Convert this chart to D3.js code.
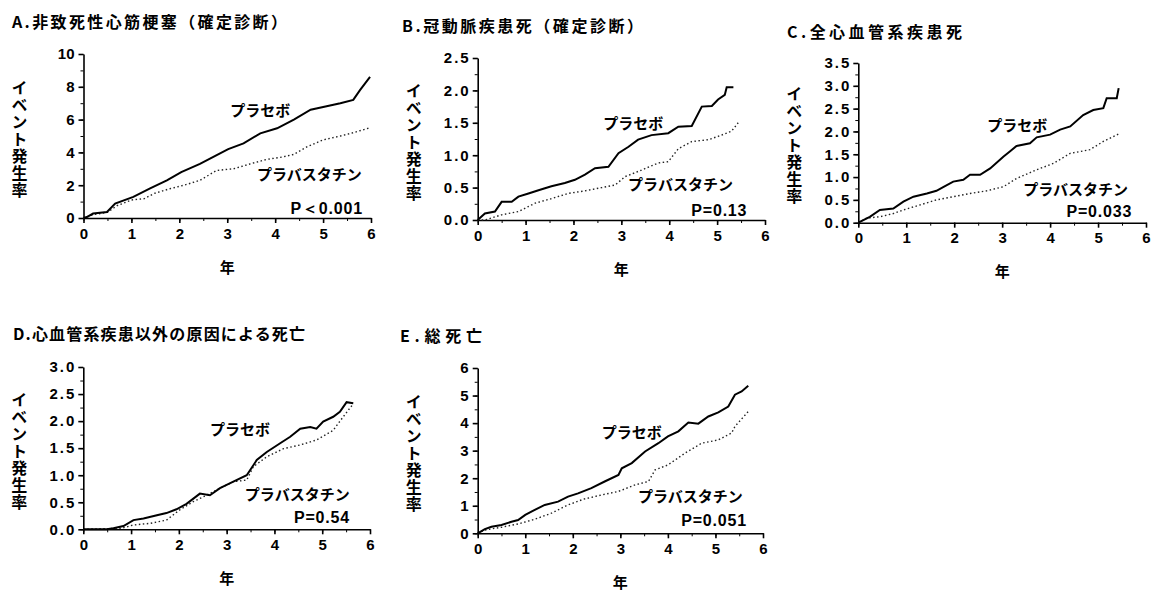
<!DOCTYPE html>
<html>
<head>
<meta charset="utf-8">
<script src="https://cdn.jsdelivr.net/npm/d3@7"></script>
<style>
  body { margin: 0; background: #fff; }
  svg { display: block; }
  .jp { font-family: "Noto Sans CJK JP", sans-serif; font-weight: bold; }
  .num { font-family: "Liberation Sans", Arial, sans-serif; font-weight: bold; }
</style>
</head>
<body>
<svg width="1155" height="591"></svg>
<script>
// chart values
const panelTitles = [
	'A.非致死性心筋梗塞（確定診断）',
	'B.冠動脈疾患死（確定診断）',
	'C.全心血管系疾患死',
	'D.心血管系疾患以外の原因による死亡',
	'E.総死亡',
];
const yMax = [10, 2.5, 3.5, 3.0, 6];
const yStep = [2, 0.5, 0.5, 0.5, 1];
const yDecimals = [0, 1, 1, 1, 0];
const xTicks = [0, 1, 2, 3, 4, 5, 6];
const pValues = ['P＜0.001', 'P=0.13', 'P=0.033', 'P=0.54', 'P=0.051'];
const yLabel = 'イベント発生率';
const xLabel = '年';
const seriesNames = ['プラセボ', 'プラバスタチン'];

const placeboA = [[0,0],[0.07,0.06],[0.2,0.27],[0.49,0.37],[0.66,0.88],[1.04,1.29],[1.39,1.8],[1.74,2.3],[2.04,2.8],[2.43,3.3],[2.78,3.84],[3.02,4.2],[3.34,4.55],[3.69,5.16],[4.04,5.47],[4.39,6.0],[4.74,6.6],[5.05,6.8],[5.36,7.0],[5.63,7.2],[5.77,7.8],[5.98,8.6]];
const pravaA = [[0,0],[0.2,0.2],[0.5,0.35],[0.7,0.75],[1.0,1.1],[1.27,1.18],[1.48,1.5],[1.82,1.8],[2.1,2.0],[2.43,2.3],[2.78,2.9],[3.13,3.0],[3.48,3.3],[3.82,3.57],[4.17,3.73],[4.39,3.88],[4.67,4.35],[5.0,4.76],[5.36,5.0],[5.63,5.2],[5.98,5.5]];

const placeboB = [[0,0],[0.15,0.1],[0.36,0.13],[0.5,0.28],[0.71,0.28],[0.85,0.36],[1.06,0.41],[1.27,0.46],[1.54,0.52],[1.82,0.57],[2.03,0.62],[2.24,0.7],[2.45,0.8],[2.73,0.82],[2.94,1.03],[3.15,1.13],[3.35,1.24],[3.63,1.31],[3.98,1.34],[4.19,1.44],[4.47,1.45],[4.68,1.75],[4.89,1.76],[5.02,1.86],[5.16,1.93],[5.2,2.05],[5.34,2.05]];
const pravaB = [[0,0],[0.15,0],[0.5,0.08],[0.85,0.13],[1.2,0.26],[1.54,0.33],[1.89,0.41],[2.24,0.45],[2.59,0.5],[2.87,0.54],[3.08,0.67],[3.42,0.77],[3.77,0.88],[3.98,0.9],[4.19,1.1],[4.47,1.21],[4.82,1.24],[5.02,1.29],[5.3,1.37],[5.44,1.5]];

const placeboC = [[0,0],[0.24,0.13],[0.45,0.28],[0.73,0.31],[0.94,0.46],[1.15,0.57],[1.43,0.64],[1.63,0.7],[1.77,0.78],[1.98,0.9],[2.19,0.94],[2.33,1.05],[2.54,1.05],[2.75,1.19],[3.03,1.45],[3.16,1.56],[3.3,1.68],[3.58,1.74],[3.72,1.87],[4.0,1.93],[4.21,2.04],[4.42,2.11],[4.69,2.36],[4.9,2.47],[5.11,2.51],[5.18,2.73],[5.39,2.73],[5.43,2.95]];
const pravaC = [[0,0],[0.17,0.1],[0.45,0.13],[0.73,0.2],[0.94,0.28],[1.29,0.39],[1.63,0.5],[1.98,0.57],[2.33,0.64],[2.68,0.7],[3.03,0.79],[3.3,0.97],[3.72,1.16],[4.07,1.3],[4.42,1.52],[4.83,1.6],[5.11,1.78],[5.46,1.96]];

const placeboD = [[0,0],[0.49,0],[0.63,0.02],[0.84,0.06],[1.05,0.17],[1.26,0.2],[1.54,0.26],[1.74,0.3],[1.95,0.37],[2.16,0.47],[2.44,0.66],[2.65,0.63],[2.86,0.76],[3.14,0.88],[3.42,1.0],[3.63,1.28],[3.84,1.43],[4.12,1.59],[4.33,1.71],[4.54,1.86],[4.75,1.89],[4.88,1.86],[5.02,1.99],[5.23,2.08],[5.37,2.17],[5.51,2.35],[5.65,2.33]];
const pravaD = [[0,0],[0.8,0.02],[1.05,0.08],[1.4,0.11],[1.74,0.17],[2.02,0.36],[2.3,0.51],[2.58,0.63],[2.86,0.76],[3.14,0.88],[3.42,0.91],[3.56,1.16],[3.84,1.34],[4.19,1.49],[4.54,1.56],[4.88,1.65],[5.23,1.83],[5.44,2.08],[5.65,2.32]];

const placeboE = [[0,0],[0.15,0.15],[0.29,0.24],[0.5,0.3],[0.71,0.42],[0.85,0.48],[1.0,0.67],[1.2,0.85],[1.41,1.03],[1.69,1.15],[1.9,1.33],[2.11,1.45],[2.39,1.64],[2.67,1.88],[2.96,2.12],[3.03,2.36],[3.24,2.55],[3.52,2.97],[3.8,3.27],[4.0,3.52],[4.22,3.7],[4.43,4.02],[4.64,3.98],[4.85,4.24],[5.06,4.39],[5.27,4.6],[5.41,5.03],[5.55,5.15],[5.69,5.36]];
const pravaE = [[0,0],[0.15,0.12],[0.5,0.22],[0.85,0.34],[1.2,0.51],[1.55,0.73],[1.9,1.03],[2.23,1.24],[2.6,1.39],[2.96,1.52],[3.31,1.76],[3.59,1.88],[3.73,2.3],[4.0,2.48],[4.36,2.91],[4.71,3.27],[5.06,3.39],[5.34,3.64],[5.41,3.88],[5.69,4.42]];

const placeboSeries = [placeboA, placeboB, placeboC, placeboD, placeboE];
const pravaSeries = [pravaA, pravaB, pravaC, pravaD, pravaE];

// layout: plot frames in pixels, titles, label spots in data units
const frames = [
	{ left: 83.5, top: 54, right: 371, bottom: 218, tx: 12, ty: 21, tw: 275 },
	{ left: 477.7, top: 58, right: 765, bottom: 220, tx: 402, ty: 25, tw: 241 },
	{ left: 858.3, top: 63, right: 1146, bottom: 222.7, tx: 787, ty: 31, tw: 175 },
	{ left: 83.3, top: 367, right: 370, bottom: 529.3, tx: 13, ty: 333, tw: 292 },
	{ left: 477.7, top: 368, right: 763, bottom: 533.3, tx: 400, ty: 335, tw: 82 },
];
const labelSpots = [
	{ plac: [3.06, 6.6], prav: [3.62, 2.74], p: [5.83, 0.6] },
	{ plac: [2.62, 1.5], prav: [3.14, 0.57], p: [5.63, 0.15] },
	{ plac: [2.69, 2.15], prav: [3.44, 0.76], p: [5.71, 0.24] },
	{ plac: [2.65, 1.87], prav: [3.38, 0.67], p: [5.58, 0.21] },
	{ plac: [2.61, 3.68], prav: [3.37, 1.39], p: [5.66, 0.48] },
];

const svg = d3.select('svg');

frames.forEach((f, i) => {
	const g = svg.append('g');

	const x = d3.scaleLinear().domain([0, 6]).range([f.left, f.right]);
	const y = d3.scaleLinear().domain([0, yMax[i]]).range([f.bottom, f.top]);

	const majorY = d3.range(0, yMax[i] + 1e-9, yStep[i]);
	const minorY = d3.range(0, yMax[i] + 1e-9, yStep[i] / 2);
	const minorX = d3.range(0, 6.01, 0.5);
	const spacing = yDecimals[i] ? 2 : 0;

	// minor ticks first, no labels
	g.append('g')
		.attr('transform', `translate(${f.left},0)`)
		.call(d3.axisLeft(y).tickValues(minorY).tickSize(3).tickFormat(''))
		.call((a) => a.select('.domain').remove());
	g.append('g')
		.attr('transform', `translate(0,${f.bottom})`)
		.call(d3.axisBottom(x).tickValues(minorX).tickSize(3).tickFormat(''))
		.call((a) => a.select('.domain').remove());

	const yAxis = g.append('g')
		.attr('transform', `translate(${f.left},0)`)
		.call(
			d3.axisLeft(y)
				.tickValues(majorY)
				.tickSize(5)
				.tickSizeOuter(0)
				.tickPadding(4 - spacing)
				.tickFormat(d3.format(`.${yDecimals[i]}f`))
		);
	const xAxis = g.append('g')
		.attr('transform', `translate(0,${f.bottom})`)
		.call(
			d3.axisBottom(x)
				.tickValues(xTicks)
				.tickSize(5)
				.tickSizeOuter(0)
				.tickPadding(5)
				.tickFormat(d3.format('d'))
		);

	[yAxis, xAxis].forEach((a) => {
		a.selectAll('path, line')
			.attr('stroke', '#000')
			.attr('stroke-width', 1.6);
		a.selectAll('text')
			.attr('class', 'num')
			.attr('font-size', 15)
			.attr('fill', '#000');
	});
	yAxis.selectAll('text')
		.attr('letter-spacing', spacing);

	const line = d3.line()
		.x((d) => x(d[0]))
		.y((d) => y(d[1]));

	g.append('path')
		.datum(pravaSeries[i])
		.attr('d', line)
		.attr('fill', 'none')
		.attr('stroke', '#222')
		.attr('stroke-width', 1.4)
		.attr('stroke-dasharray', '1.5,2.5');

	g.append('path')
		.datum(placeboSeries[i])
		.attr('d', line)
		.attr('fill', 'none')
		.attr('stroke', '#000')
		.attr('stroke-width', 2);

	// title
	g.append('text')
		.attr('class', 'jp')
		.attr('x', f.tx)
		.attr('y', f.ty)
		.attr('dominant-baseline', 'central')
		.attr('font-size', 16)
		.attr('textLength', f.tw)
		.attr('lengthAdjust', 'spacing')
		.text(panelTitles[i]);

	// vertical y label
	g.append('text')
		.attr('class', 'jp')
		.attr('x', f.left - 64)
		.attr('y', (f.top + f.bottom) / 2 + 3)
		.attr('text-anchor', 'middle')
		.attr('font-size', 16)
		.attr('letter-spacing', 1)
		.style('writing-mode', 'vertical-rl')
		.style('text-orientation', 'upright')
		.text(yLabel);

	g.append('text')
		.attr('class', 'jp')
		.attr('x', x(3))
		.attr('y', f.bottom + 48)
		.attr('text-anchor', 'middle')
		.attr('dominant-baseline', 'central')
		.attr('font-size', 15)
		.text(xLabel);

	const spot = labelSpots[i];
	g.append('text')
		.attr('class', 'jp')
		.attr('x', x(spot.plac[0]))
		.attr('y', y(spot.plac[1]))
		.attr('dominant-baseline', 'central')
		.attr('font-size', 15)
		.text(seriesNames[0]);
	g.append('text')
		.attr('class', 'jp')
		.attr('x', x(spot.prav[0]))
		.attr('y', y(spot.prav[1]))
		.attr('dominant-baseline', 'central')
		.attr('font-size', 15)
		.text(seriesNames[1]);
	g.append('text')
		.attr('class', 'num')
		.attr('x', x(spot.p[0]))
		.attr('y', y(spot.p[1]))
		.attr('text-anchor', 'end')
		.attr('dominant-baseline', 'central')
		.attr('font-size', 16)
		.attr('letter-spacing', 0.8)
		.text(pValues[i]);
});
</script>
</body>
</html>
